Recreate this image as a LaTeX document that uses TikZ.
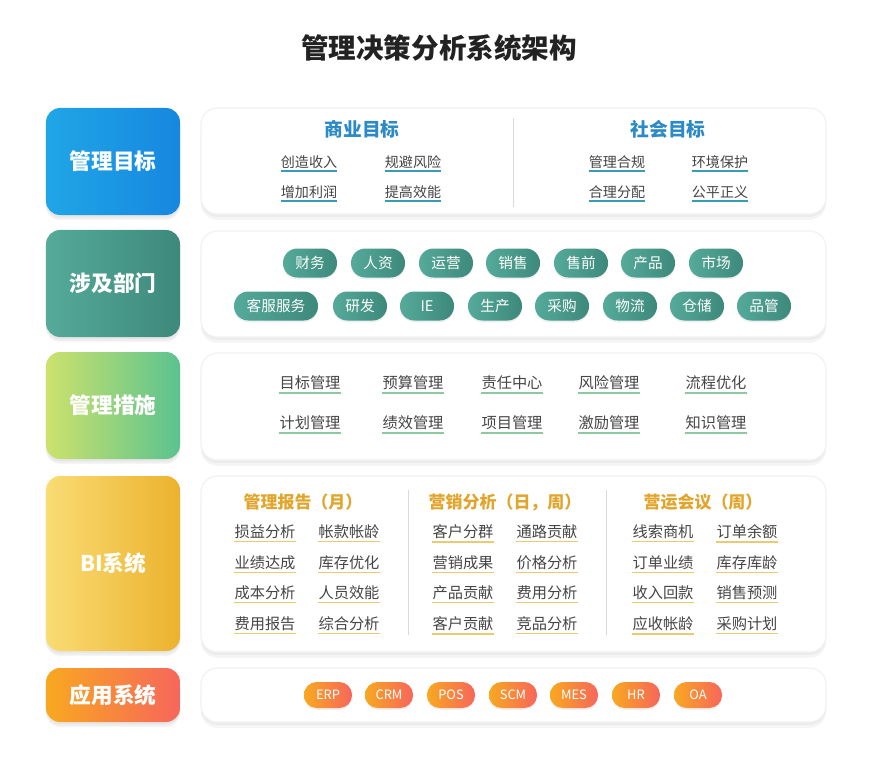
\documentclass[tikz,border=0pt]{standalone}
\usepackage{fontspec}
\setmainfont{Noto Sans CJK SC}
\usetikzlibrary{shadows}
\definecolor{colortitle}{HTML}{222222}
\definecolor{colortext}{HTML}{454545}
\definecolor{bluea}{HTML}{20A6E6}
\definecolor{blueb}{HTML}{1787E0}
\definecolor{teala}{HTML}{55AA9A}
\definecolor{tealb}{HTML}{3D897B}
\definecolor{greena}{HTML}{CDE26C}
\definecolor{greenb}{HTML}{5AC290}
\definecolor{golda}{HTML}{F9DC74}
\definecolor{goldb}{HTML}{ECB22D}
\definecolor{orangea}{HTML}{F8A820}
\definecolor{orangeb}{HTML}{F7665C}
\definecolor{colorgoal}{HTML}{2C8AC6}
\definecolor{colorbi}{HTML}{E2A52C}
\definecolor{colorgoalline}{HTML}{3A9CB4}
\definecolor{colormesline}{HTML}{8CC9A0}
\definecolor{colorbiline}{HTML}{EACB6F}
\tikzset{
  titletext/.style={text=colortitle, font=\fontsize{23.5pt}{26pt}\selectfont\bfseries},
  leftbox/.style={rounded corners=12pt, minimum width=4.02cm, text=white,
    font=\fontsize{18.5pt}{20pt}\selectfont\bfseries,
    general shadow={shadow xshift=0pt, shadow yshift=-4pt, fill=black, opacity=.06},
    drop shadow={shadow xshift=0pt, shadow yshift=-2pt, opacity=.08}},
  panel/.style={rounded corners=14pt, fill=white, draw=black!5, line width=1pt,
    minimum width=18.75cm, inner sep=0pt,
    general shadow={shadow xshift=0pt, shadow yshift=-5pt, fill=black, opacity=.04},
    drop shadow={shadow xshift=0pt, shadow yshift=-2.5pt, opacity=.07}},
  divider/.style={black!15, line width=0.8pt},
  goalhead/.style={text=colorgoal, font=\fontsize{16pt}{18pt}\selectfont\bfseries},
  bihead/.style={text=colorbi, font=\fontsize{14.5pt}{16pt}\selectfont\bfseries},
  item/.style={text=colortext, font=\fontsize{12pt}{14pt}\selectfont, inner xsep=0pt, inner ysep=2pt},
  biitem/.style={item, font=\fontsize{13pt}{15pt}\selectfont},
  goalline/.style={colorgoalline, line width=1.6pt},
  mesline/.style={colormesline, line width=1.6pt},
  biline/.style={colorbiline, line width=1.4pt},
  deptpill/.style={left color=teala, right color=tealb, text=white, inner sep=0pt,
    minimum width=1.62cm, minimum height=0.87cm, rounded corners=0.43cm,
    font=\fontsize{12.5pt}{14pt}\selectfont,
    drop shadow={shadow xshift=0pt, shadow yshift=-1.5pt, opacity=.12}},
  apppill/.style={left color=orangea, right color=orangeb, text=white, inner sep=0pt,
    minimum width=1.44cm, minimum height=0.78cm, rounded corners=0.38cm,
    font=\fontsize{11pt}{13pt}\selectfont,
    drop shadow={shadow xshift=0pt, shadow yshift=-1.5pt, opacity=.12}}
}

\begin{document}
\begin{tikzpicture}[x=0.03cm, y=-0.03cm]
\fill[white] (0,0) rectangle (879,761);
\useasboundingbox (0,0) rectangle (879,761);
\node[titletext] (title) at (439,48) {管理决策分析系统架构};

% left column
\node[leftbox, left color=bluea, right color=blueb, minimum height=3.21cm] (goal) at (113,161.5) {管理目标};
\node[leftbox, left color=teala, right color=tealb, minimum height=3.21cm] (dept) at (113,283.5) {涉及部门};
\node[leftbox, left color=greena, right color=greenb, minimum height=3.21cm] (mes) at (113,405.5) {管理措施};
\node[leftbox, left color=golda, right color=goldb, minimum height=5.25cm] (bi) at (113,563.5) {BI系统};
\node[leftbox, left color=orangea, right color=orangeb, minimum height=1.62cm] (app) at (113,695) {应用系统};

% panels
\node[panel, minimum height=3.18cm] (goalpanel) at (513.5,161) {};
\node[panel, minimum height=3.18cm] (deptpanel) at (513.5,284) {};
\node[panel, minimum height=3.21cm] (mespanel) at (513.5,406.5) {};
\node[panel, minimum height=5.28cm] (bipanel) at (513.5,564) {};
\node[panel, minimum height=1.62cm] (apppanel) at (513.5,695) {};

% goals
\node[goalhead] (biz) at (362,129) {商业目标};
\node[goalhead] (soc) at (668,129) {社会目标};
\draw[divider] (513,118) -- (513,207);
\foreach \x/\y/\t [count=\i] in {309/162/创造收入, 413/162/规避风险, 309/192/增加利润, 413/192/提高效能,
    617/162/管理合规, 720/162/环境保护, 617/192/合理分配, 720/192/公平正义}{
  \node[item] (goal\i) at (\x,\y) {\t};
  \draw[goalline] (goal\i.south west) -- (goal\i.south east);
}

% departments
\foreach \x/\t [count=\i] in {310/财务, 378/人资, 446/运营, 513/销售, 581/售前, 648/产品, 716/市场}
  \node[deptpill] (depta\i) at (\x,263) {\t};
\node[deptpill, minimum width=2.52cm] (deptb1) at (276,306) {客服服务};
\foreach \x/\t [count=\i from 2] in {360/研发, 427/IE, 495/生产, 562/采购, 630/物流, 697/仓储, 764/品管}
  \node[deptpill] (deptb\i) at (\x,306) {\t};

% measures
\foreach \x/\ta/\tb [count=\i] in {310/目标管理/计划管理, 413/预算管理/绩效管理, 512/责任中心/项目管理,
    609/风险管理/激励管理, 716/流程优化/知识管理}{
  \node[biitem] (mesa\i) at (\x,383) {\ta};
  \node[biitem] (mesb\i) at (\x,423) {\tb};
  \draw[mesline] (mesa\i.south west) -- (mesa\i.south east);
  \draw[mesline] (mesb\i.south west) -- (mesb\i.south east);
}

% BI
\node[bihead] (report) at (303,502) {管理报告（月）};
\node[bihead] (sales) at (505,502) {营销分析（日，周）};
\node[bihead] (meeting) at (703,502) {营运会议（周）};
\draw[divider] (408,490) -- (408,635);
\draw[divider] (606,490) -- (606,635);
\foreach \x/\ta/\tb/\tc/\td [count=\i] in {265/损益分析/业绩达成/成本分析/费用报告,
    349/帐款帐龄/库存优化/人员效能/综合分析,
    463/客户分群/营销成果/产品贡献/客户贡献,
    547/通路贡献/价格分析/费用分析/竞品分析,
    663/线索商机/订单业绩/收入回款/应收帐龄,
    747/订单余额/库存库龄/销售预测/采购计划}{
  \foreach \y/\t [count=\j] in {532/\ta, 563/\tb, 593/\tc, 624/\td}{
    \node[biitem] (bi\i-\j) at (\x,\y) {\t};
    \draw[biline] (bi\i-\j.south west) -- (bi\i-\j.south east);
  }
}

% applications
\foreach \x/\t [count=\i] in {328/ERP, 389/CRM, 451/POS, 513/SCM, 574/MES, 636/HR, 698/OA}
  \node[apppill] (app\i) at (\x,695) {\t};
\end{tikzpicture}
\end{document}
